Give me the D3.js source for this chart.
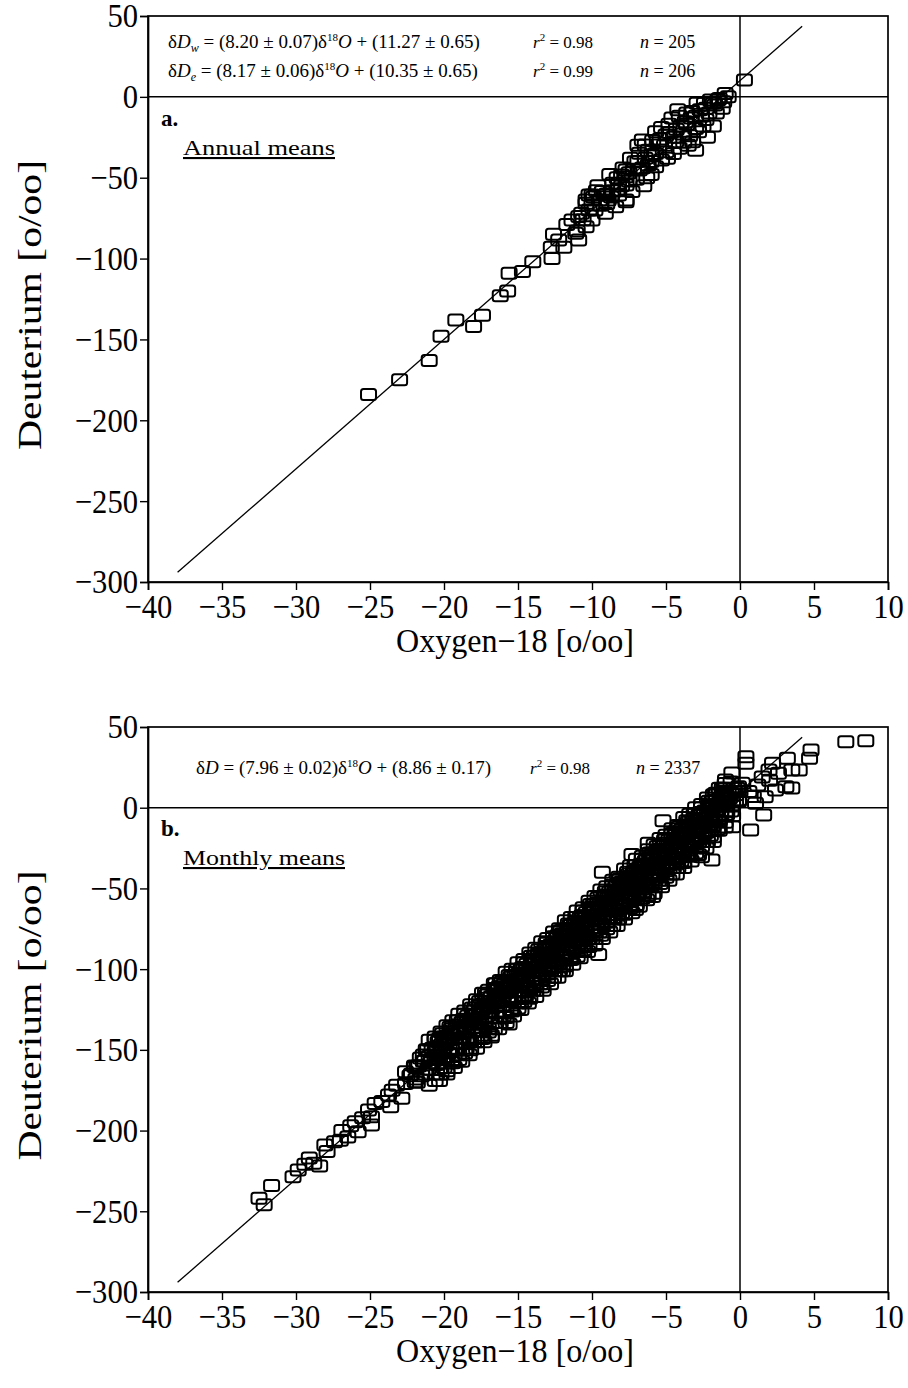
<!DOCTYPE html>
<html>
<head>
<meta charset="utf-8">
<script src="https://cdn.jsdelivr.net/npm/d3@7"></script>
<style>
  body { margin: 0; background: #fff; }
  svg { display: block; }
</style>
</head>
<body>
<svg id="chart" width="908" height="1388"></svg>
<script>
// ---- axis ticks -------------------------------------------------------
const xTicks = [-40, -35, -30, -25, -20, -15, -10, -5, 0, 5, 10];
const yTicks = [50, 0, -50, -100, -150, -200, -250, -300];

// ---- meteoric water line drawn in both panels (δ18O, δD end points) ----
const mwlLine = [[-38, -294], [4.2, 43.6]];

// ---- a. annual means (δ18O, δD) --------------------------------------
const annualLow = [
  [-25.1, -184], [-23.0, -175], [-21.0, -163], [-20.2, -148], [-19.2, -138],
  [-18.0, -142], [-17.4, -135], [-16.2, -123], [-15.7, -120], [-15.6, -109],
  [-14.7, -108], [-14.0, -102], [-12.7, -100], [-12.75, -93], [-12.6, -85],
  [-11.9, -93], [-11.7, -79], [-11.0, -83], [-10.9, -74], [-12.25, -88.5],
  [-10.9, -88.5], [-11.1, -84.4], [-10.4, -80.3], [-11.35, -76.2], [-10.0, -76.2],
  [-10.7, -72], [-9.8, -70], [-10.4, -65.8], [-9.5, -63.8], [-9.1, -60.7],
  [-8.2, -57.6], [-7.7, -49.4], [-10.2, -60.7], [-10.0, -66.9], [-9.1, -72],
  [-8.4, -68], [-7.7, -63.8], [-8.2, -53.5], [-7.5, -47]
];
const annualHigh = [
  [0.3, 10.4], [-1.4, -1], [-1.7, -5], [-2.3, -7], [-3.25, -9], [-1.2, -7],
  [-4.6, -13], [-3.7, -15.4], [-3.0, -19.5], [-5.0, -23.6], [-5.7, -21.5],
  [-6.6, -26.7], [-6.4, -29.8], [-5.5, -29.8], [-4.35, -27.7], [-3.2, -27.7],
  [-2.8, -21.5], [-6.8, -34.9], [-5.95, -36], [-5.0, -33.9], [-4.1, -31.8],
  [-7.1, -40.1], [-6.2, -42.1], [-7.7, -45.2], [-8.0, -48.3], [-6.8, -45.2],
  [-5.7, -43.2], [-8.6, -53.5], [-7.7, -54.5], [-9.3, -58.6], [-10.0, -60.7],
  [-8.2, -60.7], [-7.3, -58.6], [-10.4, -63.8], [-8.9, -63.8], [-7.7, -64.8],
  [-0.8, 0], [-1.0, 2], [-2.0, -2], [-2.6, -12], [-3.6, -10], [-4.0, -18],
  [-4.8, -17], [-2.3, -14], [-1.6, -10], [-3.4, -24], [-2.2, -25], [-4.5, -35],
  [-5.3, -39], [-6.4, -38], [-6.0, -48], [-7.0, -51], [-6.5, -55], [-8.6, -58],
  [-9.0, -66], [-9.6, -55], [-7.4, -38], [-6.9, -30], [-5.3, -19], [-4.2, -8],
  [-2.9, -4], [-1.8, -18], [-3.0, -33]
];
const annualMid = [
  [-10.6, -76], [-10.2, -70], [-9.9, -62], [-9.4, -67], [-9.0, -60], [-8.7, -62],
  [-8.3, -50], [-8.0, -55], [-7.5, -52], [-7.2, -45], [-6.9, -40], [-6.6, -44],
  [-6.2, -33], [-6.0, -40], [-5.7, -35], [-5.4, -26], [-5.1, -30], [-4.8, -22],
  [-4.5, -25], [-4.3, -20], [-3.9, -23], [-3.6, -17], [-3.3, -13], [-3.0, -12],
  [-2.7, -8], [-2.4, -4], [-2.1, -10], [-1.8, -4], [-1.5, -2], [-1.1, -3],
  [-3.8, -28], [-4.9, -38], [-6.3, -50], [-7.9, -44], [-5.9, -27], [-4.1, -12],
  [-2.5, -18], [-3.5, -30], [-8.8, -48], [-9.7, -58]
];

// ---- b. monthly means (δ18O, δD) -------------------------------------
const monthlyLow = [
  [-32.5, -242], [-32.15, -246], [-31.65, -234], [-30.2, -228.6], [-29.85, -224.5],
  [-29.4, -220.8], [-28.8, -220.3], [-28.4, -222], [-28.05, -209], [-27.9, -213],
  [-27.0, -206], [-26.9, -200], [-26.5, -204], [-26.0, -194.5], [-25.8, -200.7],
  [-24.9, -191.4], [-24.9, -196.6], [-25.1, -187.3], [-24.65, -183.2], [-23.75, -178],
  [-23.6, -185.3], [-22.85, -180], [-22.6, -170.8], [-21.95, -169.8], [-22.6, -163.6],
  [-21.95, -160.5], [-21.4, -153.2], [-23.5, -175], [-24.2, -182], [-23.2, -172],
  [-22.3, -166], [-25.5, -192], [-27.4, -207], [-29.1, -217], [-26.3, -197]
];
const monthlyBandA = [
  [-22.0, -160], [-21.8, -170], [-22.2, -165], [-21.6, -155], [-21.5, -166], [-21.7, -160],
  [-21.2, -150], [-21.1, -162], [-21.3, -157], [-20.8, -149], [-20.9, -158], [-20.6, -154],
  [-20.4, -145], [-20.3, -156], [-20.5, -150], [-20.0, -142], [-20.1, -151], [-19.9, -147],
  [-19.8, -156], [-19.6, -140], [-19.5, -150], [-19.7, -144], [-19.2, -136], [-19.3, -146],
  [-19.0, -140], [-19.1, -150], [-18.8, -133], [-18.7, -142], [-18.9, -137], [-18.4, -129],
  [-18.5, -139], [-18.3, -134], [-18.2, -144], [-18.0, -126], [-17.9, -136], [-18.1, -131],
  [-17.6, -123], [-17.7, -133], [-17.5, -128], [-17.4, -138], [-17.2, -120], [-17.1, -129],
  [-17.3, -124], [-17.2, -115], [-16.8, -117], [-16.9, -126], [-16.7, -121], [-16.8, -142],
  [-16.4, -113], [-16.5, -109], [-16.3, -123], [-16.5, -118], [-16.0, -110], [-16.1, -120],
  [-15.9, -115], [-16.0, -126], [-15.6, -107], [-15.7, -117], [-15.5, -112], [-15.6, -134],
  [-15.2, -104], [-15.3, -114], [-15.1, -109], [-15.0, -120], [-14.8, -100], [-14.9, -110],
  [-14.7, -105], [-14.6, -116], [-14.4, -97], [-14.5, -107], [-14.3, -102], [-14.2, -112],
  [-14.0, -94], [-14.1, -104], [-13.9, -99], [-13.8, -109], [-13.6, -91], [-13.7, -101],
  [-13.5, -96], [-13.4, -106], [-13.2, -88], [-13.3, -98], [-13.1, -93], [-13.0, -103],
  [-12.8, -85], [-12.9, -95], [-12.7, -90], [-12.6, -99], [-12.4, -81], [-12.5, -91],
  [-12.3, -86], [-12.2, -96], [-12.0, -78], [-12.1, -88], [-11.9, -83], [-11.8, -93],
  [-12.0, -101], [-11.6, -75], [-11.7, -85], [-11.5, -80], [-11.4, -90], [-11.2, -72],
  [-11.3, -82], [-11.1, -77], [-11.0, -87], [-10.8, -68], [-10.9, -78], [-10.7, -73],
  [-10.6, -84], [-10.4, -65], [-10.5, -75], [-10.3, -70], [-10.2, -81], [-10.0, -62],
  [-10.1, -72], [-9.9, -67], [-9.8, -77], [-9.6, -59], [-9.7, -69], [-9.5, -64],
  [-9.4, -74], [-9.55, -91], [-9.2, -56], [-9.3, -66], [-9.1, -61], [-9.0, -71],
  [-8.8, -52], [-8.9, -63], [-8.7, -57], [-8.6, -68], [-8.4, -49], [-8.5, -60],
  [-8.3, -54], [-8.2, -64], [-8.0, -46], [-8.1, -57], [-7.9, -51], [-7.8, -61],
  [-7.6, -43], [-7.7, -53], [-7.5, -48], [-7.4, -58], [-7.2, -40], [-7.3, -50],
  [-7.1, -45], [-7.0, -55], [-7.06, -63], [-6.8, -37], [-6.9, -47], [-6.7, -42],
  [-6.6, -52], [-6.4, -33], [-6.5, -44], [-6.3, -38], [-6.2, -48], [-6.0, -30],
  [-6.1, -41], [-5.9, -35], [-5.8, -45], [-5.9, -55], [-5.6, -27], [-5.7, -37],
  [-5.5, -32], [-5.4, -42], [-5.2, -24], [-5.3, -34], [-5.1, -29], [-5.0, -39],
  [-4.8, -20], [-4.9, -31], [-4.7, -25], [-4.6, -35], [-4.4, -17], [-4.5, -28],
  [-4.3, -22], [-4.2, -32], [-4.0, -14], [-4.1, -25], [-3.9, -19], [-3.8, -29],
  [-3.6, -11], [-3.7, -21], [-3.5, -16], [-3.4, -26], [-3.2, -8], [-3.3, -18],
  [-3.1, -13], [-3.0, -22], [-2.8, -5], [-2.9, -15], [-2.7, -10], [-2.6, -19],
  [-2.4, -2], [-2.5, -12], [-2.3, -7], [-2.2, -15], [-2.0, 1], [-2.1, -9],
  [-1.9, -4], [-1.8, -12], [-1.6, 4], [-1.7, -5], [-1.5, -1], [-1.4, -8],
  [-1.2, 7], [-1.3, -2], [-1.1, 3], [-1.0, -5], [-0.8, 10], [-0.9, 1],
  [-0.7, 6], [-0.6, -2], [-0.4, 12], [-0.5, 4], [-0.3, 8], [0.0, 10], [-0.1, 5]
];
const monthlyBandB = [
  [-21.8, -160], [-21.9, -168], [-21.4, -157], [-21.3, -165], [-21.0, -154], [-20.9, -162],
  [-21.1, -150], [-20.6, -151], [-20.5, -159], [-20.2, -147], [-20.1, -155], [-20.3, -143],
  [-19.8, -144], [-19.7, -152], [-19.4, -141], [-19.3, -149], [-19.5, -137], [-19.0, -138],
  [-18.9, -146], [-18.6, -135], [-18.5, -143], [-18.7, -131], [-18.2, -131], [-18.1, -139],
  [-17.8, -128], [-17.7, -136], [-17.9, -124], [-17.4, -125], [-17.3, -133], [-17.0, -122],
  [-16.9, -130], [-17.1, -118], [-16.6, -119], [-16.5, -127], [-16.2, -115], [-16.1, -123],
  [-16.3, -111], [-15.8, -112], [-15.7, -120], [-15.4, -109], [-15.3, -117], [-15.5, -105],
  [-15.0, -106], [-14.9, -114], [-14.6, -103], [-14.5, -111], [-14.7, -99], [-14.2, -99],
  [-14.1, -107], [-13.8, -96], [-13.7, -104], [-13.9, -92], [-13.4, -93], [-13.3, -101],
  [-13.0, -90], [-12.9, -98], [-13.1, -86], [-12.6, -87], [-12.5, -95], [-12.2, -83],
  [-12.1, -91], [-12.3, -79], [-11.8, -80], [-11.7, -88], [-11.4, -77], [-11.3, -85],
  [-11.5, -73], [-11.0, -74], [-10.9, -82], [-10.6, -71], [-10.5, -79], [-10.7, -67],
  [-10.2, -67], [-10.1, -75], [-9.8, -64], [-9.7, -72], [-9.9, -60], [-9.4, -61],
  [-9.3, -69], [-9.0, -58], [-8.9, -66], [-9.1, -54], [-8.6, -55], [-8.5, -63],
  [-8.2, -51], [-8.1, -59], [-8.3, -47], [-7.8, -48], [-7.7, -56], [-7.4, -45],
  [-7.3, -53], [-7.5, -41], [-7.0, -42], [-6.9, -50], [-6.6, -39], [-6.5, -47],
  [-6.7, -35], [-6.2, -35], [-6.1, -43], [-5.8, -32], [-5.7, -40], [-5.9, -28],
  [-5.4, -29], [-5.3, -37], [-5.0, -26], [-4.9, -34], [-5.1, -22], [-4.6, -23],
  [-4.5, -31], [-4.2, -19], [-4.1, -27], [-4.3, -15], [-3.8, -16], [-3.7, -24],
  [-3.4, -13], [-3.3, -21], [-3.5, -9], [-3.0, -10], [-2.9, -18], [-2.6, -7],
  [-2.5, -15], [-2.7, -3], [-2.2, -3], [-2.1, -11], [-1.8, 0], [-1.7, -8],
  [-1.9, 4], [-1.4, 3], [-1.3, -5], [-1.0, 6], [-0.9, -2], [-1.1, 10],
  [-0.6, 9], [-0.5, 1], [-0.2, 12], [-0.1, 4]
];
const monthlyBandC = [
  [-21.0, -144], [-21.0, -172], [-20.85, -156], [-20.6, -142], [-20.6, -169], [-20.45, -153],
  [-20.2, -139], [-20.2, -165], [-20.05, -150], [-19.8, -135], [-19.8, -163], [-19.65, -146],
  [-19.4, -132], [-19.4, -158], [-19.25, -143], [-19.0, -128], [-19.0, -156], [-18.85, -140],
  [-18.6, -126], [-18.6, -152], [-18.45, -137], [-18.2, -122], [-18.2, -150], [-18.05, -134],
  [-17.8, -119], [-17.8, -145], [-17.65, -130], [-17.4, -115], [-17.4, -143], [-17.25, -127],
  [-17.0, -113], [-17.0, -139], [-16.85, -124], [-16.6, -109], [-16.6, -137], [-16.45, -121],
  [-16.2, -107], [-16.2, -133], [-16.05, -118], [-15.8, -102], [-15.8, -130], [-15.65, -114],
  [-15.4, -100], [-15.4, -126], [-15.25, -111], [-15.0, -96], [-15.0, -124], [-14.85, -108],
  [-14.6, -94], [-14.6, -120], [-14.45, -105], [-14.2, -90], [-14.2, -118], [-14.05, -102],
  [-13.8, -87], [-13.8, -113], [-13.65, -98], [-13.4, -83], [-13.4, -111], [-13.25, -95],
  [-13.0, -81], [-13.0, -107], [-12.85, -92], [-12.6, -77], [-12.6, -105], [-12.45, -89],
  [-12.2, -75], [-12.2, -101], [-12.05, -86], [-11.8, -70], [-11.8, -98], [-11.65, -82],
  [-11.4, -68], [-11.4, -94], [-11.25, -79], [-11.0, -64], [-11.0, -92], [-10.85, -76],
  [-10.6, -62], [-10.6, -88], [-10.45, -73], [-10.2, -58], [-10.2, -86], [-10.05, -70],
  [-9.8, -55], [-9.8, -81], [-9.65, -66], [-9.4, -51], [-9.4, -79], [-9.25, -63],
  [-9.0, -49], [-9.0, -75], [-8.85, -60], [-8.6, -45], [-8.6, -73], [-8.45, -57],
  [-8.2, -43], [-8.2, -69], [-8.05, -54], [-7.8, -38], [-7.8, -66], [-7.65, -50],
  [-7.4, -36], [-7.4, -62], [-7.25, -47], [-7.0, -32], [-7.0, -60], [-6.85, -44],
  [-6.6, -30], [-6.6, -56], [-6.45, -41], [-6.2, -26], [-6.2, -54], [-6.05, -38],
  [-5.8, -23], [-5.8, -49], [-5.65, -34], [-5.4, -19], [-5.4, -47], [-5.25, -31],
  [-5.0, -17], [-5.0, -43], [-4.85, -28], [-4.6, -13], [-4.6, -41], [-4.45, -25],
  [-4.2, -11], [-4.2, -37], [-4.05, -22], [-3.8, -6], [-3.8, -34], [-3.65, -18],
  [-3.4, -4], [-3.4, -30], [-3.25, -15], [-3.0, 0], [-3.0, -28], [-2.85, -12],
  [-2.6, 2], [-2.6, -24], [-2.45, -9], [-2.2, 6], [-2.2, -21], [-2.05, -6],
  [-1.8, 8], [-1.8, -18], [-1.65, -2], [-1.4, 12], [-1.4, -14], [-1.25, 1],
  [-1.0, 15], [-1.0, -12], [-0.85, 4]
];
const monthlyBandD = [
  [-14.1, -95], [-13.9, -108], [-13.6, -91], [-13.4, -104], [-13.1, -87], [-12.9, -100],
  [-12.6, -83], [-12.4, -96], [-12.1, -79], [-11.9, -92], [-11.6, -75], [-11.4, -88],
  [-11.1, -71], [-10.9, -84], [-10.6, -67], [-10.4, -80], [-10.1, -63], [-9.9, -76],
  [-9.6, -59], [-9.4, -72], [-9.1, -55], [-8.9, -68], [-8.6, -51], [-8.4, -64],
  [-8.1, -47], [-7.9, -60], [-7.6, -43], [-7.4, -56], [-7.1, -39], [-6.9, -52],
  [-6.6, -35], [-6.4, -48], [-6.1, -31], [-5.9, -44], [-5.6, -27], [-5.4, -40],
  [-5.1, -23], [-4.9, -36], [-4.6, -19], [-4.4, -32], [-4.1, -15], [-3.9, -28],
  [-3.6, -11], [-3.4, -24], [-3.1, -7], [-2.9, -20], [-2.6, -3], [-2.4, -16],
  [-2.1, 1], [-1.9, -12], [-1.6, 5], [-1.4, -8], [-1.1, 9], [-0.9, -4]
];
const monthlyBandE = [
  [-20.6, -144], [-20.5, -165], [-20.1, -140], [-20.0, -161], [-19.6, -136], [-19.5, -157],
  [-19.1, -132], [-19.0, -153], [-18.6, -128], [-18.5, -149], [-18.1, -124], [-18.0, -145],
  [-17.6, -120], [-17.5, -141], [-17.1, -116], [-17.0, -137], [-16.6, -112], [-16.5, -133],
  [-16.1, -108], [-16.0, -129], [-15.6, -104], [-15.5, -125], [-15.1, -100], [-15.0, -121],
  [-14.6, -96], [-14.5, -117], [-14.1, -92], [-14.0, -113], [-13.6, -88], [-13.5, -109],
  [-13.1, -84], [-13.0, -105], [-12.6, -80], [-12.5, -101], [-12.1, -76], [-12.0, -97],
  [-11.6, -72], [-11.5, -93], [-11.1, -68], [-11.0, -89], [-10.6, -64], [-10.5, -85],
  [-10.1, -60], [-10.0, -81], [-9.6, -56], [-9.5, -77], [-9.1, -52], [-9.0, -73],
  [-8.6, -48], [-8.5, -69], [-8.1, -44], [-8.0, -65], [-7.6, -40], [-7.5, -61],
  [-7.1, -36], [-7.0, -57], [-6.6, -32], [-6.5, -53], [-6.1, -28], [-6.0, -49],
  [-5.6, -24], [-5.5, -45], [-5.1, -20], [-5.0, -41], [-4.6, -16], [-4.5, -37],
  [-4.1, -12], [-4.0, -33], [-3.6, -8], [-3.5, -29], [-3.1, -4], [-3.0, -25],
  [-2.6, 0], [-2.5, -21], [-2.1, 4], [-2.0, -17], [-1.6, 8], [-1.5, -13],
  [-1.1, 12], [-1.0, -9], [-0.6, 16], [-0.5, -5]
];
const monthlyBandF = [
  [-20.45, -148], [-20.3, -169], [-19.95, -144], [-19.8, -165], [-19.45, -140], [-19.3, -161],
  [-18.95, -136], [-18.8, -157], [-18.45, -132], [-18.3, -153], [-17.95, -128], [-17.8, -149],
  [-17.45, -124], [-17.3, -145], [-16.95, -120], [-16.8, -141], [-16.45, -116], [-16.3, -137],
  [-15.95, -112], [-15.8, -133], [-15.45, -108], [-15.3, -129], [-14.95, -104], [-14.8, -125],
  [-14.45, -100], [-14.3, -121], [-13.95, -96], [-13.8, -117], [-13.45, -92], [-13.3, -113],
  [-12.95, -88], [-12.8, -109], [-12.45, -84], [-12.3, -105], [-11.95, -80], [-11.8, -101],
  [-11.45, -76], [-11.3, -97], [-10.95, -72], [-10.8, -93], [-10.45, -68], [-10.3, -89],
  [-9.95, -64], [-9.8, -85], [-9.45, -60], [-9.3, -81], [-8.95, -56], [-8.8, -77],
  [-8.45, -52], [-8.3, -73], [-7.95, -48], [-7.8, -69], [-7.45, -44], [-7.3, -65],
  [-6.95, -40], [-6.8, -61], [-6.45, -36], [-6.3, -57], [-5.95, -32], [-5.8, -53],
  [-5.45, -28], [-5.3, -49], [-4.95, -24], [-4.8, -45], [-4.45, -20], [-4.3, -41],
  [-3.95, -16], [-3.8, -37], [-3.45, -12], [-3.3, -33], [-2.95, -8], [-2.8, -29],
  [-2.45, -4], [-2.3, -25], [-1.95, 0], [-1.8, -21]
];
const monthlyHigh = [
  [0.4, 31.6], [0.4, 27.5], [3.2, 30.6], [4.8, 35.7], [4.7, 30.6], [7.15, 40.9],
  [8.5, 41.5], [3.5, 23.4], [4.0, 23.4], [2.2, 27.5], [1.96, 23.4], [2.6, 21.3],
  [3.1, 13], [3.5, 12.2], [1.7, 6.8], [1.05, 2.7], [0.15, 15.1], [-0.55, 21.5],
  [-0.1, 13], [-0.98, 17.2], [-0.98, 9.1], [-1.65, 8.9], [-1.4, 2.7], [-2.1, 0.6],
  [0.72, -13.8], [1.6, -4.5], [-0.5, -11.8], [-1.9, -32.4], [-2.6, -30.4],
  [0.6, 10], [1.2, 14], [2.0, 17], [-0.3, 4], [0.9, 7], [2.4, 11], [1.5, 19], [-1.2, 12],
  [-5.2, -8], [-5.5, -27], [-7.3, -29], [-9.3, -40], [-6.2, -22]
];

// ---- regression statements printed inside the panels -----------------
const annualFits = [
  { sub: "w", slope: "8.20", slopeErr: "0.07", icpt: "11.27", icptErr: "0.65", r2: "0.98", n: "205" },
  { sub: "e", slope: "8.17", slopeErr: "0.06", icpt: "10.35", icptErr: "0.65", r2: "0.99", n: "206" }
];
const monthlyFits = [
  { sub: "", slope: "7.96", slopeErr: "0.02", icpt: "8.86", icptErr: "0.17", r2: "0.98", n: "2337" }
];

const svg = d3.select("#chart");
const serif = "'Liberation Serif', 'Times New Roman', serif";
const labelScale = 0.9;   // horizontal squeeze of the tick numerals

function drawPanel(cfg) {
  const x = d3.scaleLinear().domain([-40, 10]).range([cfg.left, cfg.right]);
  const y = d3.scaleLinear().domain([-300, 50]).range([cfg.bottom, cfg.top]);
  const g = svg.append("g");

  // zero reference lines
  g.append("line")
    .attr("x1", x(0)).attr("x2", x(0)).attr("y1", cfg.top).attr("y2", cfg.bottom)
    .attr("stroke", "#000").attr("stroke-width", 1.5);
  g.append("line")
    .attr("x1", cfg.left).attr("x2", cfg.right).attr("y1", y(0)).attr("y2", y(0))
    .attr("stroke", "#000").attr("stroke-width", 1.5);

  // meteoric water line
  g.append("path")
    .attr("d", d3.line().x(d => x(d[0])).y(d => y(d[1]))(mwlLine))
    .attr("fill", "none").attr("stroke", "#000").attr("stroke-width", 1.3);

  // open square markers
  const pts = [].concat(...cfg.series);
  g.append("g").selectAll("rect").data(pts).join("rect")
    .attr("x", d => x(d[0]) - 7.5)
    .attr("y", d => y(d[1]) - 5.5)
    .attr("width", 15).attr("height", 11).attr("rx", 2.5)
    .attr("fill", "none").attr("stroke", "#000").attr("stroke-width", 2);

  // frame
  g.append("rect")
    .attr("x", cfg.left).attr("y", cfg.top)
    .attr("width", cfg.right - cfg.left).attr("height", cfg.bottom - cfg.top)
    .attr("fill", "none").attr("stroke", "#000").attr("stroke-width", 1.7);

  // axes
  const ax = g.append("g").attr("transform", `translate(0,${cfg.bottom})`)
    .call(d3.axisBottom(x).tickValues(xTicks).tickSize(8).tickPadding(4));
  const ay = g.append("g").attr("transform", `translate(${cfg.left},0)`)
    .call(d3.axisLeft(y).tickValues(yTicks).tickSize(8).tickPadding(2));
  [ax, ay].forEach(a => {
    a.select(".domain").attr("stroke-width", 1.7);
    a.selectAll(".tick line").attr("stroke-width", 1.4);
    a.selectAll(".tick text")
      .attr("font-family", serif).attr("font-size", 34).attr("fill", "#000")
      .attr("transform", `scale(${labelScale},1)`);
  });
  ay.selectAll(".tick text").attr("x", -10 / labelScale);

  // axis titles
  g.append("text")
    .attr("x", (cfg.left + cfg.right) / 2 - 3).attr("y", cfg.bottom + 70)
    .attr("text-anchor", "middle")
    .attr("font-family", serif).attr("font-size", 33)
    .attr("textLength", 238).attr("lengthAdjust", "spacingAndGlyphs")
    .text("Oxygen\u221218 [o/oo]");
  g.append("text")
    .attr("transform", `translate(41,${(cfg.top + cfg.bottom) / 2 + 6}) rotate(-90)`)
    .attr("text-anchor", "middle")
    .attr("font-family", serif).attr("font-size", 33)
    .attr("textLength", 290).attr("lengthAdjust", "spacingAndGlyphs")
    .text("Deuterium [o/oo]");

  // regression statements
  cfg.fits.forEach((f, i) => {
    const ty = cfg.eqY + i * 29;
    const t = g.append("text").attr("x", cfg.eqX).attr("y", ty)
      .attr("font-family", serif).attr("font-size", 19);
    t.append("tspan").text("\u03b4");
    t.append("tspan").attr("font-style", "italic").text("D");
    if (f.sub) {
      t.append("tspan").attr("font-style", "italic").attr("font-size", 12)
        .attr("dy", 4).text(f.sub);
      t.append("tspan").attr("dy", -4).text(` = (${f.slope} \u00b1 ${f.slopeErr})\u03b4`);
    } else {
      t.append("tspan").text(` = (${f.slope} \u00b1 ${f.slopeErr})\u03b4`);
    }
    t.append("tspan").attr("font-size", 11).attr("dy", -7).text("18");
    t.append("tspan").attr("font-style", "italic").attr("dy", 7).text("O");
    t.append("tspan").text(` + (${f.icpt} \u00b1 ${f.icptErr})`);

    const r = g.append("text").attr("x", cfg.r2X).attr("y", ty)
      .attr("font-family", serif).attr("font-size", 17);
    r.append("tspan").attr("font-style", "italic").text("r");
    r.append("tspan").attr("font-size", 11).attr("dy", -7).text("2");
    r.append("tspan").attr("dy", 7).text(` = ${f.r2}`);

    const n = g.append("text").attr("x", cfg.nX).attr("y", ty)
      .attr("font-family", serif).attr("font-size", 18);
    n.append("tspan").attr("font-style", "italic").text("n");
    n.append("tspan").text(` = ${f.n}`);
  });

  // panel letter and caption
  g.append("text")
    .attr("x", cfg.left + 13).attr("y", cfg.letterY)
    .attr("font-family", serif).attr("font-size", 23).attr("font-weight", "bold")
    .text(cfg.letter);
  g.append("text")
    .attr("x", cfg.left + 35).attr("y", cfg.letterY + 29)
    .attr("font-family", serif).attr("font-size", 21)
    .attr("text-decoration", "underline")
    .attr("textLength", cfg.captionWidth).attr("lengthAdjust", "spacingAndGlyphs")
    .text(cfg.caption);
}

drawPanel({
  left: 148, right: 888, top: 16, bottom: 582,
  series: [annualLow, annualHigh, annualMid],
  fits: annualFits, eqX: 168, eqY: 48, r2X: 533, nX: 640,
  letter: "a.", caption: "Annual means", captionWidth: 152, letterY: 126
});

drawPanel({
  left: 148, right: 888, top: 727, bottom: 1292,
  series: [monthlyLow, monthlyBandA, monthlyBandB, monthlyBandC, monthlyBandD, monthlyBandE, monthlyBandF, monthlyHigh],
  fits: monthlyFits, eqX: 196, eqY: 774, r2X: 530, nX: 636,
  letter: "b.", caption: "Monthly means", captionWidth: 162, letterY: 836
});
</script>
</body>
</html>
